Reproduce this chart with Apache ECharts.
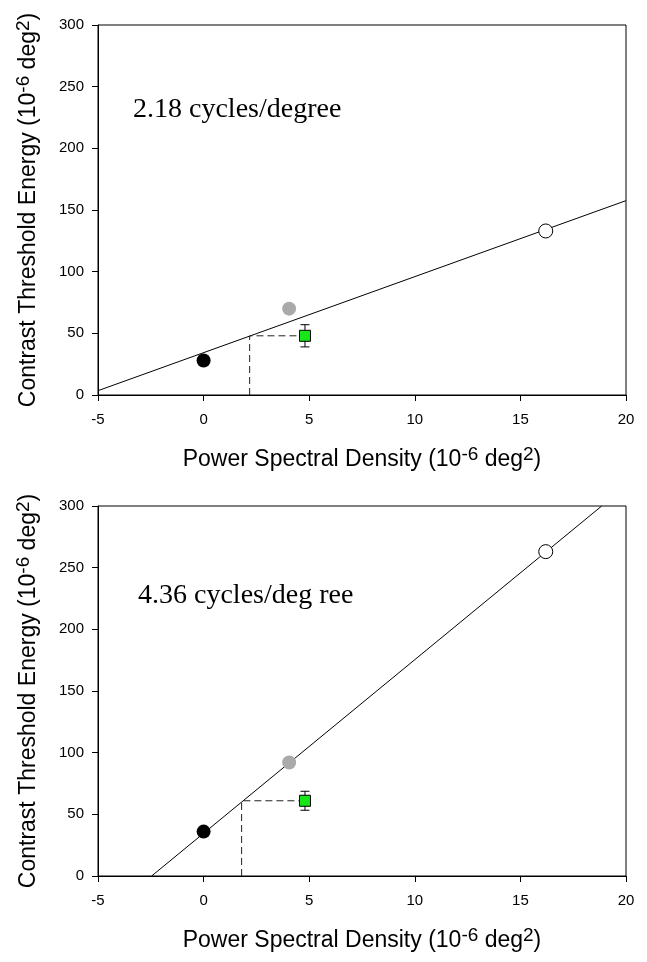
<!DOCTYPE html>
<html>
<head>
<meta charset="utf-8">
<script src="https://cdn.jsdelivr.net/npm/echarts@6/dist/echarts.min.js"></script>
<style>
  html, body { margin: 0; padding: 0; background: #fff; }
  #chart { width: 647px; height: 962px; }
</style>
</head>
<body>
<div id="chart"></div>
<script>
  // data: [psd, energy]
  var labels = ['2.18 cycles/degree', '4.36 cycles/deg ree'];
  var xTicks = [-5, 0, 5, 10, 15, 20];
  var yTicks = [0, 50, 100, 150, 200, 250, 300];

  // top panel (2.18 c/deg)
  var blackTop = [[0, 28]];
  var grayTop = [[4.05, 70]];
  var openTop = [[16.2, 133]];
  var greenTop = [[4.8, 48]];
  var errTop = [9];
  var fitTop = [[-5, 3.5], [20, 157.6]];
  var dashTop = [[2.18, 0], [2.18, 48], [4.8, 48]];

  // bottom panel (4.36 c/deg)
  var blackBot = [[0, 36]];
  var grayBot = [[4.05, 92]];
  var openBot = [[16.2, 263]];
  var greenBot = [[4.8, 61]];
  var errBot = [7.7];
  var fitBot = [[-2.46, 0], [18.85, 300]];
  var dashBot = [[1.8, 0], [1.8, 61], [4.8, 61]];

  var sans = 'Liberation Sans, Arial, sans-serif';
  var serif = 'Liberation Serif, Times New Roman, serif';

  var nameRich = {
    n: { fontSize: 23, fontFamily: sans, color: '#000', lineHeight: 30 },
    s: { fontSize: 19, fontFamily: sans, color: '#000', lineHeight: 19, verticalAlign: 'top' }
  };

  function xAxis(idx) {
    return {
      type: 'value', gridIndex: idx, min: -5, max: 20, interval: 5,
      name: '{n|Power Spectral Density (10}{s|-6}{n| deg}{s|2}{n|)}',
      nameLocation: 'middle', nameGap: 50,
      nameTextStyle: { rich: nameRich },
      axisLine: { show: true, onZero: false, lineStyle: { color: '#000', width: 1 } },
      axisTick: { show: true, inside: false, length: 6, lineStyle: { color: '#000' } },
      axisLabel: { fontSize: 15, fontFamily: sans, color: '#000', margin: 17,
        formatter: function (v) { return xTicks.indexOf(v) >= 0 ? String(v) : ''; } },
      splitLine: { show: false }
    };
  }

  function yAxis(idx) {
    return {
      type: 'value', gridIndex: idx, min: 0, max: 300, interval: 50,
      name: '{n|Contrast Threshold Energy (10}{s|-6}{n| deg}{s|2}{n|)}',
      nameLocation: 'middle', nameGap: 54, nameRotate: 90,
      nameTextStyle: { rich: nameRich },
      axisLine: { show: true, onZero: false, lineStyle: { color: '#000', width: 1 } },
      axisTick: { show: true, inside: false, length: 6, lineStyle: { color: '#000' } },
      axisLabel: { fontSize: 15, fontFamily: sans, color: '#000', margin: 14,
        formatter: function (v) { return yTicks.indexOf(v) >= 0 ? String(v) : ''; } },
      splitLine: { show: false }
    };
  }

  function errorSeries(idx, pts, errs) {
    return {
      type: 'custom', xAxisIndex: idx, yAxisIndex: idx, z: 3,
      data: pts.map(function (p, i) { return [p[0], p[1] - errs[i], p[1] + errs[i]]; }),
      renderItem: function (params, api) {
        var lo = api.coord([api.value(0), api.value(1)]);
        var hi = api.coord([api.value(0), api.value(2)]);
        var w = 4.5;
        var st = { stroke: '#000', lineWidth: 1 };
        return {
          type: 'group',
          children: [
            { type: 'line', shape: { x1: lo[0], y1: lo[1], x2: hi[0], y2: hi[1] }, style: st },
            { type: 'line', shape: { x1: lo[0] - w, y1: lo[1], x2: lo[0] + w, y2: lo[1] }, style: st },
            { type: 'line', shape: { x1: hi[0] - w, y1: hi[1], x2: hi[0] + w, y2: hi[1] }, style: st }
          ]
        };
      }
    };
  }

  function panelSeries(idx, fit, dash, black, gray, open, green, errs) {
    return [
      { type: 'line', xAxisIndex: idx, yAxisIndex: idx, data: fit, symbol: 'none', silent: true,
        lineStyle: { color: '#000', width: 1 }, z: 2 },
      { type: 'line', xAxisIndex: idx, yAxisIndex: idx, data: dash, symbol: 'none', silent: true,
        lineStyle: { color: '#222', width: 1, type: [7, 4] }, z: 2 },
      errorSeries(idx, green, errs),
      { type: 'scatter', xAxisIndex: idx, yAxisIndex: idx, data: black, symbol: 'circle', symbolSize: 14,
        itemStyle: { color: '#000', opacity: 1 }, z: 4 },
      { type: 'scatter', xAxisIndex: idx, yAxisIndex: idx, data: gray, symbol: 'circle', symbolSize: 14,
        itemStyle: { color: '#aaaaaa', opacity: 1 }, z: 4 },
      { type: 'scatter', xAxisIndex: idx, yAxisIndex: idx, data: open, symbol: 'circle', symbolSize: 14,
        itemStyle: { color: '#fff', borderColor: '#000', borderWidth: 1, opacity: 1 }, z: 4 },
      { type: 'scatter', xAxisIndex: idx, yAxisIndex: idx, data: green, symbol: 'rect', symbolSize: 11,
        itemStyle: { color: '#19e619', borderColor: '#000', borderWidth: 1, opacity: 1 }, z: 5 }
    ];
  }

  var chart = echarts.init(document.getElementById('chart'), null, { renderer: 'canvas' });
  chart.setOption({
    animation: false,
    backgroundColor: '#fff',
    title: [
      { text: labels[0], left: 128, top: 91, textStyle: { fontFamily: serif, fontSize: 28, fontWeight: 'normal', color: '#000' } },
      { text: labels[1], left: 133, top: 577, textStyle: { fontFamily: serif, fontSize: 28, fontWeight: 'normal', color: '#000' } }
    ],
    grid: [
      { left: 98, top: 25, width: 528, height: 370, show: true, borderColor: '#000', borderWidth: 1, backgroundColor: 'transparent' },
      { left: 98, top: 506, width: 528, height: 370, show: true, borderColor: '#000', borderWidth: 1, backgroundColor: 'transparent' }
    ],
    xAxis: [xAxis(0), xAxis(1)],
    yAxis: [yAxis(0), yAxis(1)],
    series: panelSeries(0, fitTop, dashTop, blackTop, grayTop, openTop, greenTop, errTop)
      .concat(panelSeries(1, fitBot, dashBot, blackBot, grayBot, openBot, greenBot, errBot))
  });
</script>
</body>
</html>
